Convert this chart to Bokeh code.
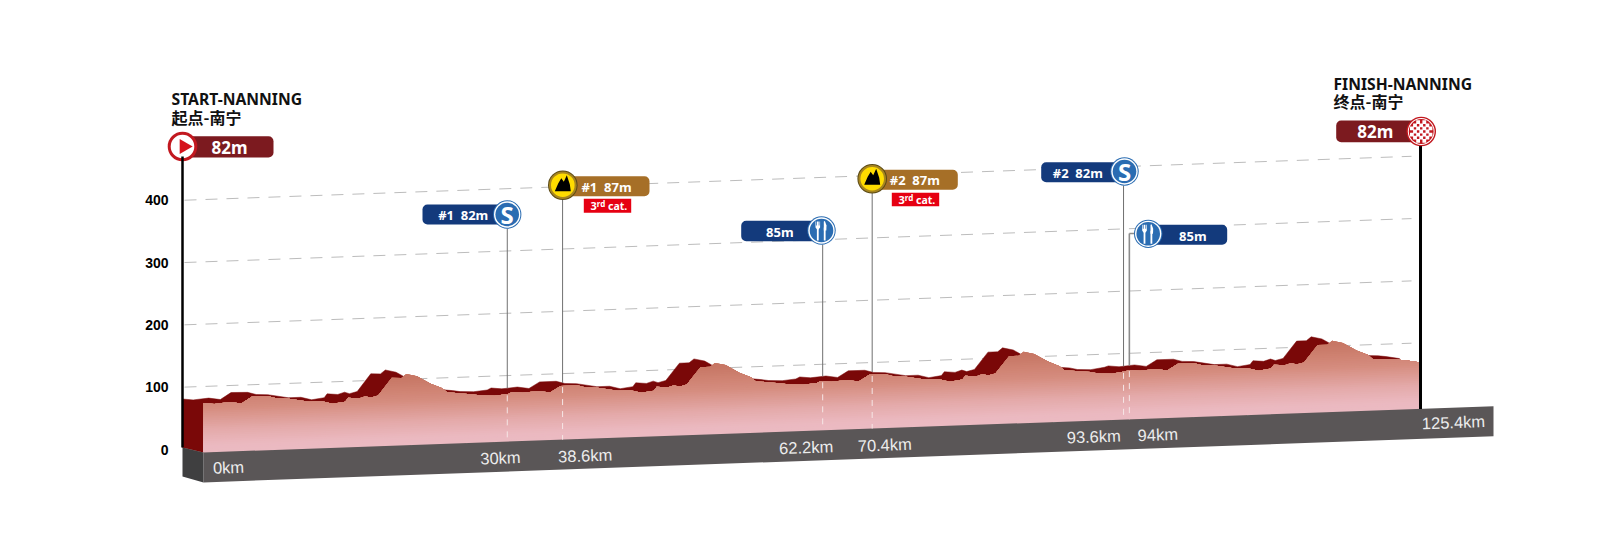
import numpy as np
from bokeh.plotting import figure
from bokeh.models import Range1d, LinearAxis, FixedTicker
from bokeh.core.properties import value
from bokeh.embed import file_html
from bokeh.resources import INLINE

# ---- data ----
profile_km_1 = [0, 1.1, 2.7, 3.9, 5.0, 6.7, 7.6, 8.8, 10.9, 12.2, 13.3, 14.6, 14.9, 16.0, 16.7, 17.2, 18.0, 19.4, 20.4, 20.9, 22.0, 23.4, 24.6, 25.1, 27.8, 28.6, 30.0, 31.4]
profile_m_1 = [81, 79, 81, 78, 88.7, 88, 84, 83, 77, 77, 72.4, 75, 81, 79.4, 82.7, 80, 83, 110.7, 110, 116, 111.8, 99, 91.2, 84.4, 79, 77, 76, 78]
profile_km_2 = [31.8, 32.9, 34.5, 35.7, 36.8, 38.5, 39.4, 40.6, 42.7, 44.0, 45.1, 46.4, 46.7, 47.8, 48.5, 49.0, 49.8, 51.2, 52.2, 52.7, 53.8, 55.2, 56.4, 56.9, 59.6, 60.4, 61.8, 63.2]
profile_m_2 = [81, 79, 81, 78, 88, 88, 84, 83, 77, 77, 72.4, 75, 81, 79.4, 82.7, 80, 83, 110, 110, 116, 112, 99, 91, 84.4, 79, 77, 76, 78]
profile_km_3 = [63.6, 64.7, 66.3, 67.5, 68.6, 70.3, 71.2, 72.4, 74.5, 75.8, 76.9, 78.2, 78.5, 79.6, 80.3, 80.8, 81.6, 83.0, 84.0, 84.5, 85.6, 87.0, 88.2, 88.7, 91.4, 92.2, 93.6, 95.0]
profile_m_3 = [81, 79, 81, 78, 88, 88, 84, 83, 77, 77, 72.4, 75, 81, 79.4, 82.7, 80, 83, 110, 110, 116, 112, 99, 91, 84, 80, 77, 76, 79]
profile_km_4 = [95.4, 96.5, 98.1, 99.3, 100.4, 102.1, 103.0, 104.2, 106.3, 107.6, 108.7, 110.0, 110.3, 111.4, 112.1, 112.6, 113.4, 114.8, 115.8, 116.3, 117.4, 118.8, 120.0, 120.5, 123.2, 124.0, 125.4]
profile_m_4 = [81, 79, 81, 78, 88, 88, 84, 83, 77, 77, 72.4, 75, 81, 79.4, 82.7, 80, 83, 110, 110, 116, 112, 99, 91, 84, 81.7, 80, 76]
elevation_ticks = [0, 100, 200, 300, 400]
marker_km = [31.3, 37.0, 63.8, 68.9, 94.8, 95.4]
km_labels = ["0km", "30km", "38.6km", "62.2km", "70.4km", "93.6km", "94km", "125.4km"]
start_names = ["START-NANNING", "起点-南宁"]
finish_names = ["FINISH-NANNING", "终点-南宁"]

# ---- layout: picture pixels <-> scales ----
X0, KX, Y0, KY = 203.0, 9.705, 449.0, 0.623
SK = 0.5577       # metres of skew per km
WALL = 21 / KX    # depth offset of the back wall, km
FRONT_DROP = 4 / KY
BASE_DROP = 3 / KY


def fx(px):
    return (np.asarray(px, dtype=float) - X0) / KX


def fy(py):
    return (Y0 - np.asarray(py, dtype=float)) / KY


km = np.array(profile_km_1 + profile_km_2 + profile_km_3 + profile_km_4)
elev = np.array(profile_m_1 + profile_m_2 + profile_m_3 + profile_m_4)

p = figure(width=1584, height=521, x_range=Range1d(float(fx(0)), float(fx(1584))),
           y_range=Range1d(float(fy(521)), float(fy(0))), toolbar_location=None,
           output_backend="svg", min_border=0, x_axis_location=None, y_axis_location=None,
           outline_line_color=None, background_fill_color="white", border_fill_color="white")
p.grid.visible = False

axis = LinearAxis(ticker=FixedTicker(ticks=elevation_ticks), fixed_location=float(fx(182)),
                  bounds=(3, 470), major_tick_line_color=None, minor_tick_line_color=None,
                  axis_line_color="black", axis_line_width=2.5,
                  major_label_text_font="Liberation Sans", major_label_text_font_style="bold",
                  major_label_text_font_size="14px", major_label_text_color="black",
                  major_label_standoff=8)
p.add_layout(axis, "left")

# grid lines
for lev in elevation_ticks[1:]:
    gx = np.array([fx(184), fx(1411)])
    p.line(gx, lev + SK * (gx + WALL), line_color="#bcbcbc", line_width=1, line_dash="12 9")

# side wall and back profile
back_x = np.concatenate([km - WALL, [km[-1] - WALL, 0, -WALL]])
back_y = np.concatenate([elev + SK * km, [SK * km[-1], -BASE_DROP, 3.2]])
p.patch(back_x, back_y, fill_color="#7a0808", line_color="#7a0808", line_width=0.5)

# front profile: gradient built from nested areas
stops_e = [125, 110, 75, 40, 15, -10]
stops_c = [(198, 116, 96), (200, 120, 102), (213, 140, 126), (228, 170, 170), (235, 185, 192), (236, 188, 196)]
levels = np.arange(125, -7, -3.0)
for L in levels:
    cross = []
    for i in range(len(km) - 1):
        if (elev[i] - L) * (elev[i + 1] - L) < 0:
            cross.append(km[i] + (L - elev[i]) / (elev[i + 1] - elev[i]) * (km[i + 1] - km[i]))
    xs = np.sort(np.concatenate([km, cross]))
    es = np.minimum(np.interp(xs, km, elev), L)
    col = tuple(int(round(np.interp(L, stops_e[::-1], [c[k] for c in stops_c][::-1]))) for k in range(3))
    p.varea(xs, SK * xs - BASE_DROP, np.maximum(es - FRONT_DROP, -BASE_DROP) + SK * xs,
            fill_color="#%02x%02x%02x" % col)

# ground band and side
gx_r = float(fx(1493))
p.patch([0, gx_r, gx_r, 0], [-BASE_DROP, SK * gx_r - BASE_DROP, SK * gx_r - BASE_DROP - 48, -BASE_DROP - 48],
        fill_color="#5a5657", line_color=None)
p.patch([-WALL, 0, 0, -WALL], [3.2, -BASE_DROP, -BASE_DROP - 48, -43.3], fill_color="#3f3f40", line_color=None)

# finish post
p.line([km[-1], km[-1]], [SK * km[-1] - BASE_DROP, float(fy(145))], line_color="black", line_width=3)

# marker poles
tops_py = [228, 199, 244, 192, 185, 233]
for i, (mk, top) in enumerate(zip(marker_km, tops_py)):
    e_back = np.interp(mk + WALL, km, elev) + SK * (mk + WALL)
    e_front = np.interp(mk, km, elev) + SK * mk - FRONT_DROP
    ground = SK * mk - BASE_DROP
    last = i == 5
    p.line([mk, mk], [float(fy(top)), e_back], line_color="#8c8c8c" if last else "#707070", line_width=1.6 if last else 1)
    p.line([mk, mk], [e_front - 2, ground], line_color="#f6e6e6", line_width=1, line_dash="6 6")
p.line([marker_km[5], float(fx(1136))], [float(fy(233)), float(fy(233))], line_color="#8c8c8c", line_width=1.4)


def txt(px, py, s, size, color="white", style="bold", font="Noto Sans", align="center", angle=0):
    p.text([float(fx(px))], [float(fy(py))], text=[s], text_font=value(font), text_font_size=f"{size}px",
           text_font_style=style, text_color=color, text_align=align, text_baseline="middle",
           angle=angle, angle_units="deg")


def pill(left, right, top, bottom, color):
    p.quad(left=[float(fx(left))], right=[float(fx(right))], top=[float(fy(top))], bottom=[float(fy(bottom))],
           fill_color=color, line_color=None, border_radius=5)


def disc(px, py, r, color):
    p.scatter([float(fx(px))], [float(fy(py))], size=2 * r, marker="circle", fill_color=color, line_color=None)


def blue_badge(px, py):
    disc(px, py, 14.2, "#2a6cb2")
    disc(px, py, 13.2, "white")
    disc(px, py, 11.8, "#2a6cb2")


def poly(px, py, pts, color):
    p.patch([float(fx(px + a)) for a, b in pts], [float(fy(py + b)) for a, b in pts], fill_color=color, line_color=None)


def stroke(px, py, pts, width=1.5, color="white"):
    p.line([float(fx(px + a)) for a, b in pts], [float(fy(py + b)) for a, b in pts], line_color=color, line_width=width)


def fork_knife(px, py):
    stroke(px, py, [(-3.7, -9), (-3.7, 10)], 1.8)
    poly(px, py, [(-6, -9), (-5.4, -9), (-5.3, -5), (-2.1, -5), (-2, -9), (-1.4, -9), (-1.4, -3), (-3, -1), (-4.4, -1), (-6, -3)], "white")
    stroke(px, py, [(3.2, -3), (3.2, 10)], 1.8)
    poly(px, py, [(2.3, -9), (3.4, -9.5), (5, -5), (4.8, 0), (2.3, 0)], "white")


def kom_badge(px, py):
    disc(px, py, 14.8, "#5b4a17")
    disc(px, py, 13.8, "#a8861f")
    disc(px, py, 11.8, "#ffdc00")
    poly(px, py, [(-8, 6), (-4.5, -2), (-1.5, -7), (1, -3.5), (4, -10), (7, -1), (8, 6)], "black")


def cat_badge(left, right, top, bottom):
    p.quad(left=[float(fx(left))], right=[float(fx(right))], top=[float(fy(top))], bottom=[float(fy(bottom))],
           fill_color="#e60012", line_color=None)
    cx = (left + right) / 2
    cy = (top + bottom) / 2
    txt(cx - 17, cy + 0.5, "3", 11, align="left")
    txt(cx - 10.7, cy - 2.5, "rd", 8, align="left")
    txt(cx + 0.5, cy + 0.5, "cat.", 10.5, align="left")


NAVY, BROWN, MAROON = "#133a7c", "#a66f27", "#7c1a1f"
GAP = "\u00a0\u00a0"

# start
pill(170, 273, 135.7, 157, MAROON)
disc(182, 146, 14.8, "#c2181f")
disc(182, 146, 11.8, "white")
p.scatter([float(fx(183.5))], [float(fy(146))], size=15, marker="triangle", angle=-np.pi / 2, fill_color="#d5121b", line_color=None)
txt(229, 147, "82m", 17)
txt(171, 98.5, start_names[0], 15.7, "#111111", align="left")
txt(171, 116, start_names[1], 16, "#111111", font="Noto Sans CJK SC", align="left")

# finish
pill(1335.7, 1420, 120, 141.7, MAROON)
disc(1420.7, 131, 14.8, "#c2181f")
disc(1420.7, 131, 13.4, "white")
disc(1420.7, 131, 12.4, "#c2181f")
for ix in range(-3, 4):
    for iy in range(-3, 4):
        if (ix + iy) % 2 == 0 and ix * ix + iy * iy <= 11:
            p.scatter([float(fx(1420.7 + ix * 3.1))], [float(fy(131 + iy * 3.1))], size=3.8, marker="square",
                      fill_color="white", line_color=None)
txt(1374.7, 131, "82m", 17)
txt(1333, 83.5, finish_names[0], 15.7, "#111111", align="left")
txt(1333, 100.5, finish_names[1], 16, "#111111", font="Noto Sans CJK SC", align="left")

# sprint 1
pill(422, 506, 204, 224, NAVY)
blue_badge(506.7, 214)
txt(462.7, 214.5, "#1" + GAP + "82m", 13)
txt(506.7, 213.5, "S", 24)
# KOM 1
pill(560, 649, 175.7, 195.7, BROWN)
kom_badge(562.3, 184.7)
txt(606, 186, "#1" + GAP + "87m", 13)
cat_badge(583.3, 630.7, 198.3, 212.3)
# feed 1
pill(740.7, 821, 220.3, 240.7, NAVY)
blue_badge(821, 230)
fork_knife(821, 230)
txt(779.3, 231, "85m", 13)
# KOM 2
pill(870, 957.3, 169.3, 189.3, BROWN)
kom_badge(871.7, 178.3)
txt(914.3, 179.3, "#2" + GAP + "87m", 13)
cat_badge(891.3, 938.7, 192.3, 205.7)
# sprint 2
pill(1040.7, 1124, 161.7, 181.7, NAVY)
blue_badge(1124, 171)
txt(1077.3, 172, "#2" + GAP + "82m", 13)
txt(1124, 170.5, "S", 24)
# feed 2
pill(1147.7, 1226.7, 224.3, 244.3, NAVY)
blue_badge(1147.7, 233.3)
fork_knife(1147.7, 233.3)
txt(1192.3, 235, "85m", 13)

# distance labels
label_px = [(228, 466.7), (500, 457.3), (584.7, 455), (805.7, 446.7), (884.3, 444.3), (1093.3, 436), (1157.3, 434), (1453, 421.7)]
for s, (lx, ly) in zip(km_labels, label_px):
    txt(lx, ly, s, 16.5, "#ededed", "normal", "Liberation Sans", angle=2)

open("out.html", "w").write(file_html(p, INLINE))
